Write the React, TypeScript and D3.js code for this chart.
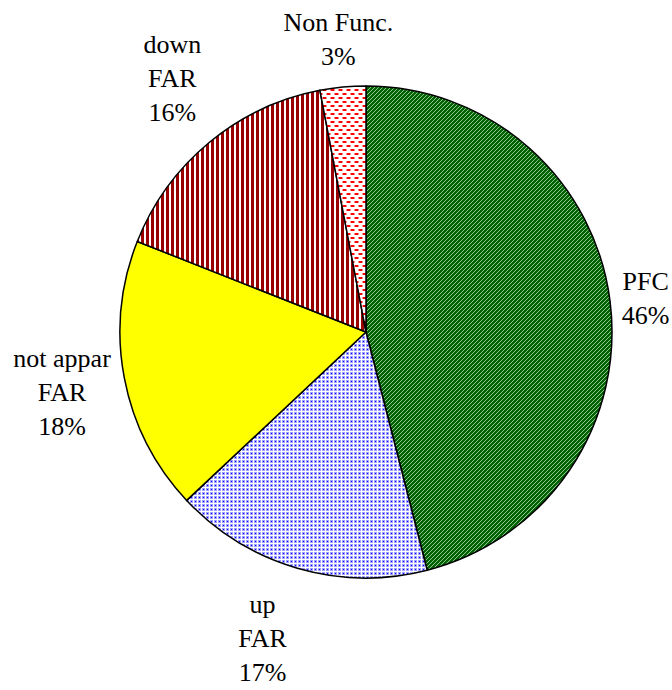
import * as d3 from 'd3'

const width = 672
const height = 690

// slices, clockwise from 12 o'clock
const labels = [['PFC'], ['up', 'FAR'], ['not appar', 'FAR'], ['down', 'FAR'], ['Non Func.']]
const values = [46, 17, 18, 16, 3]
const fills = ['url(#pGreen)', 'url(#pBlue)', '#ffff00', 'url(#pRed)', 'url(#pPink)']

// small hand nudges for the outside labels (layout only)
const labelNudge = [[0, -6], [-17, 2], [2, -5], [5, -21], [0, -8]]

const cx = 366
const cy = 332
const radius = 246
const fontSize = 26
const lineH = 34
const gap = 8
const font = '"Liberation Serif", "DejaVu Serif", "Times New Roman", serif'

// rough text width for Times-like font
function textWidth(s: string) {
  const canvas = document.createElement('canvas')
  const ctx = canvas.getContext('2d')
  if (!ctx) return s.length * fontSize * 0.5
  ctx.font = `${fontSize}px ${font}`
  return ctx.measureText(s).width
}

function App() {
  const total = d3.sum(values)
  const pie = d3.pie<number>().sort(null).value(d => d)
  const arcs = pie(values)
  const arc = d3.arc<d3.PieArcDatum<number>>().innerRadius(0).outerRadius(radius)

  return (
    <>
      <style>{`body{margin:0}`}</style>
      <svg width={width} height={height} style={{ display: 'block', background: '#fff' }}>
        <defs>
          <pattern id="pGreen" width={4} height={4} patternUnits="userSpaceOnUse">
            <rect width={4} height={4} fill="#006200" />
            <path d="M-1,1 l2,-2 M0,4 l4,-4 M3,5 l2,-2" stroke="#9fd09f" strokeWidth={0.9} />
          </pattern>
          <pattern id="pBlue" width={4} height={4} patternUnits="userSpaceOnUse">
            <rect width={4} height={4} fill="#ffffff" />
            <rect width={3} height={3} fill="#a0a0ff" />
            <rect x={1} y={1} width={1} height={1} fill="#0000ff" />
          </pattern>
          <pattern id="pRed" width={5} height={5} patternUnits="userSpaceOnUse">
            <rect width={5} height={5} fill="#ffffff" />
            <rect width={3} height={5} fill="#990000" />
          </pattern>
          <pattern id="pPink" width={8} height={8} patternUnits="userSpaceOnUse">
            <rect width={8} height={8} fill="#ffffff" />
            <rect x={0} y={1} width={5} height={2} fill="#ff9090" />
            <rect x={1} y={1} width={3} height={2} fill="#ff0000" />
            <rect x={4} y={5} width={5} height={2} fill="#ff9090" />
            <rect x={5} y={5} width={3} height={2} fill="#ff0000" />
            <rect x={-4} y={5} width={5} height={2} fill="#ff9090" />
          </pattern>
        </defs>
        <g transform={`translate(${cx},${cy})`}>
          {arcs.map((a, i) => (
            <path key={i} d={arc(a) || ''} fill={fills[i]} stroke="#000" strokeWidth={1.5} strokeLinejoin="round" />
          ))}
          {arcs.map((a, i) => {
            const lines = [...labels[i], `${Math.round((values[i] / total) * 100)}%`]
            const mid = (a.startAngle + a.endAngle) / 2
            const ux = Math.sin(mid)
            const uy = -Math.cos(mid)
            const w = d3.max(lines, l => textWidth(l)) || 0
            const h = lines.length * lineH
            const ext = Math.abs(ux) * w / 2 + Math.abs(uy) * h / 2
            const d = radius + gap + ext
            const x = ux * d + labelNudge[i][0]
            const top = uy * d - h / 2 + labelNudge[i][1]
            return (
              <text
                key={'t' + i}
                textAnchor="middle"
                style={{ fontFamily: font, fontSize: fontSize }}
                fill="#000"
              >
                {lines.map((l, j) => (
                  <tspan key={j} x={x} y={top + j * lineH + 33}>{l}</tspan>
                ))}
              </text>
            )
          })}
        </g>
      </svg>
    </>
  )
}

export default App
